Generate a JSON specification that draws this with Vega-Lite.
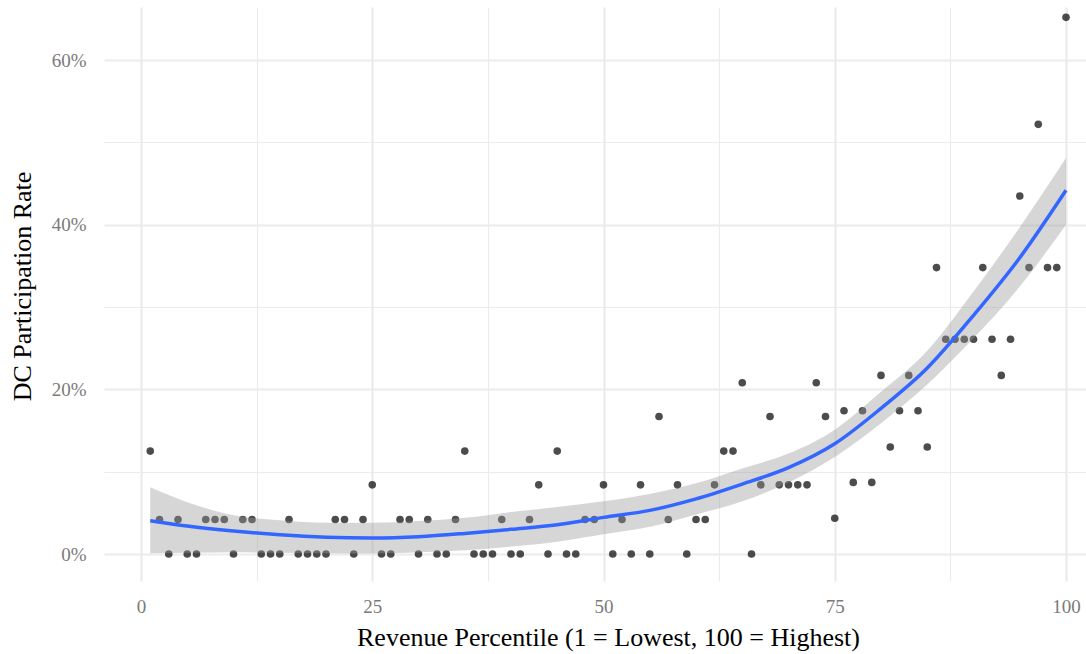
{
  "$schema": "https://vega.github.io/schema/vega-lite/v6.json",
  "width": 982,
  "height": 574,
  "autosize": {"type": "none"},
  "padding": {"left": 104, "top": 7, "right": 0, "bottom": 73},
  "background": "white",
  "config": {
    "view": {"stroke": null},
    "axis": {
      "ticks": false,
      "domain": false,
      "gridColor": "#EBEBEB",
      "labelFont": "Liberation Serif",
      "labelFontSize": 19,
      "labelColor": "#7a7a7a",
      "titleFont": "Liberation Serif",
      "titleFontSize": 26,
      "titleFontWeight": "normal",
      "titleColor": "#000000",
      "labelOverlap": false
    }
  },
  "datasets": {
    "points": [
      {"pct": 1, "rate": 0.125}, {"pct": 2, "rate": 0.042}, {"pct": 3, "rate": 0}, {"pct": 4, "rate": 0.042}, {"pct": 5, "rate": 0},
      {"pct": 6, "rate": 0}, {"pct": 7, "rate": 0.042}, {"pct": 8, "rate": 0.042}, {"pct": 9, "rate": 0.042}, {"pct": 10, "rate": 0},
      {"pct": 11, "rate": 0.042}, {"pct": 12, "rate": 0.042}, {"pct": 13, "rate": 0}, {"pct": 14, "rate": 0}, {"pct": 15, "rate": 0},
      {"pct": 16, "rate": 0.042}, {"pct": 17, "rate": 0}, {"pct": 18, "rate": 0}, {"pct": 19, "rate": 0}, {"pct": 20, "rate": 0},
      {"pct": 21, "rate": 0.042}, {"pct": 22, "rate": 0.042}, {"pct": 23, "rate": 0}, {"pct": 24, "rate": 0.042}, {"pct": 25, "rate": 0.084},
      {"pct": 26, "rate": 0}, {"pct": 27, "rate": 0}, {"pct": 28, "rate": 0.042}, {"pct": 29, "rate": 0.042}, {"pct": 30, "rate": 0},
      {"pct": 31, "rate": 0.042}, {"pct": 32, "rate": 0}, {"pct": 33, "rate": 0}, {"pct": 34, "rate": 0.042}, {"pct": 35, "rate": 0.125},
      {"pct": 36, "rate": 0}, {"pct": 37, "rate": 0}, {"pct": 38, "rate": 0}, {"pct": 39, "rate": 0.042}, {"pct": 40, "rate": 0},
      {"pct": 41, "rate": 0}, {"pct": 42, "rate": 0.042}, {"pct": 43, "rate": 0.084}, {"pct": 44, "rate": 0}, {"pct": 45, "rate": 0.125},
      {"pct": 46, "rate": 0}, {"pct": 47, "rate": 0}, {"pct": 48, "rate": 0.042}, {"pct": 49, "rate": 0.042}, {"pct": 50, "rate": 0.084},
      {"pct": 51, "rate": 0}, {"pct": 52, "rate": 0.042}, {"pct": 53, "rate": 0}, {"pct": 54, "rate": 0.084}, {"pct": 55, "rate": 0},
      {"pct": 56, "rate": 0.167}, {"pct": 57, "rate": 0.042}, {"pct": 58, "rate": 0.084}, {"pct": 59, "rate": 0}, {"pct": 60, "rate": 0.042},
      {"pct": 61, "rate": 0.042}, {"pct": 62, "rate": 0.084}, {"pct": 63, "rate": 0.125}, {"pct": 64, "rate": 0.125}, {"pct": 65, "rate": 0.208},
      {"pct": 66, "rate": 0}, {"pct": 67, "rate": 0.084}, {"pct": 68, "rate": 0.167}, {"pct": 69, "rate": 0.084}, {"pct": 70, "rate": 0.084},
      {"pct": 71, "rate": 0.084}, {"pct": 72, "rate": 0.084}, {"pct": 73, "rate": 0.208}, {"pct": 74, "rate": 0.167}, {"pct": 75, "rate": 0.0435},
      {"pct": 76, "rate": 0.174}, {"pct": 77, "rate": 0.087}, {"pct": 78, "rate": 0.174}, {"pct": 79, "rate": 0.087}, {"pct": 80, "rate": 0.217},
      {"pct": 81, "rate": 0.130}, {"pct": 82, "rate": 0.174}, {"pct": 83, "rate": 0.217}, {"pct": 84, "rate": 0.174}, {"pct": 85, "rate": 0.130},
      {"pct": 86, "rate": 0.348}, {"pct": 87, "rate": 0.261}, {"pct": 88, "rate": 0.261}, {"pct": 89, "rate": 0.261}, {"pct": 90, "rate": 0.261},
      {"pct": 91, "rate": 0.348}, {"pct": 92, "rate": 0.261}, {"pct": 93, "rate": 0.217}, {"pct": 94, "rate": 0.261}, {"pct": 95, "rate": 0.435},
      {"pct": 96, "rate": 0.348}, {"pct": 97, "rate": 0.522}, {"pct": 98, "rate": 0.348}, {"pct": 99, "rate": 0.348}, {"pct": 100, "rate": 0.652}
    ],
    "smooth": [
      {"pct": 1, "fit": 0.0405, "lo": 0.001, "hi": 0.081},
      {"pct": 5, "fit": 0.034, "lo": 0.0015, "hi": 0.063},
      {"pct": 10, "fit": 0.028, "lo": 0.002, "hi": 0.047},
      {"pct": 15, "fit": 0.0235, "lo": 0.0015, "hi": 0.041},
      {"pct": 20, "fit": 0.0205, "lo": 0.001, "hi": 0.038},
      {"pct": 25, "fit": 0.0195, "lo": 0.0005, "hi": 0.038},
      {"pct": 30, "fit": 0.021, "lo": 0.002, "hi": 0.040},
      {"pct": 35, "fit": 0.025, "lo": 0.0045, "hi": 0.044},
      {"pct": 40, "fit": 0.030, "lo": 0.009, "hi": 0.051},
      {"pct": 45, "fit": 0.0355, "lo": 0.015, "hi": 0.057},
      {"pct": 50, "fit": 0.0445, "lo": 0.024, "hi": 0.064},
      {"pct": 55, "fit": 0.053, "lo": 0.033, "hi": 0.073},
      {"pct": 60, "fit": 0.067, "lo": 0.048, "hi": 0.086},
      {"pct": 65, "fit": 0.085, "lo": 0.064, "hi": 0.104},
      {"pct": 70, "fit": 0.105, "lo": 0.087, "hi": 0.122},
      {"pct": 75, "fit": 0.134, "lo": 0.118, "hi": 0.151},
      {"pct": 80, "fit": 0.177, "lo": 0.159, "hi": 0.197},
      {"pct": 85, "fit": 0.226, "lo": 0.206, "hi": 0.247},
      {"pct": 90, "fit": 0.290, "lo": 0.262, "hi": 0.319},
      {"pct": 95, "fit": 0.360, "lo": 0.325, "hi": 0.397},
      {"pct": 100, "fit": 0.442, "lo": 0.400, "hi": 0.481}
    ]
  },
  "encoding": {
    "x": {
      "field": "pct",
      "type": "quantitative",
      "scale": {"domain": [-4, 102.16], "nice": false, "zero": false},
      "axis": {
        "values": [0, 12.5, 25, 37.5, 50, 62.5, 75, 87.5, 100],
        "format": "d",
        "labelExpr": "datum.value % 25 === 0 ? datum.label : ''",
        "gridWidth": {"condition": {"test": "datum.value % 25 === 0", "value": 2.2}, "value": 1.1},
        "labelPadding": 16,
        "title": "Revenue Percentile (1 = Lowest, 100 = Highest)",
        "titleX": 504,
        "titleY": 56,
        "titleBaseline": "middle",
        "titleAnchor": null,
        "titleAlign": "center"
      }
    }
  },
  "layer": [
    {
      "data": {"name": "points"},
      "mark": {"type": "point", "filled": true, "size": 58, "color": "#000000", "opacity": 0.7},
      "encoding": {
        "y": {
          "field": "rate",
          "type": "quantitative",
          "scale": {"domain": [-0.0328, 0.6646], "nice": false, "zero": false},
          "axis": {
            "values": [0, 0.1, 0.2, 0.3, 0.4, 0.5, 0.6],
            "format": ".0%",
            "labelExpr": "round(datum.value * 100) % 20 === 0 ? datum.label : ''",
            "gridWidth": {"condition": {"test": "round(datum.value * 100) % 20 === 0", "value": 2.2}, "value": 1.1},
            "labelPadding": 18,
            "title": "DC Participation Rate",
            "titleX": -82,
            "titleY": 279,
            "titleAngle": -90,
            "titleBaseline": "middle",
            "titleAlign": "center"
          }
        }
      }
    },
    {
      "data": {"name": "smooth"},
      "mark": {"type": "area", "color": "#999999", "opacity": 0.4, "interpolate": "monotone"},
      "encoding": {
        "y": {"field": "lo", "type": "quantitative", "title": "DC Participation Rate"},
        "y2": {"field": "hi"}
      }
    },
    {
      "data": {"name": "smooth"},
      "mark": {"type": "line", "color": "#3366FF", "strokeWidth": 3.5, "interpolate": "monotone"},
      "encoding": {
        "y": {"field": "fit", "type": "quantitative", "title": "DC Participation Rate"}
      }
    }
  ]
}
